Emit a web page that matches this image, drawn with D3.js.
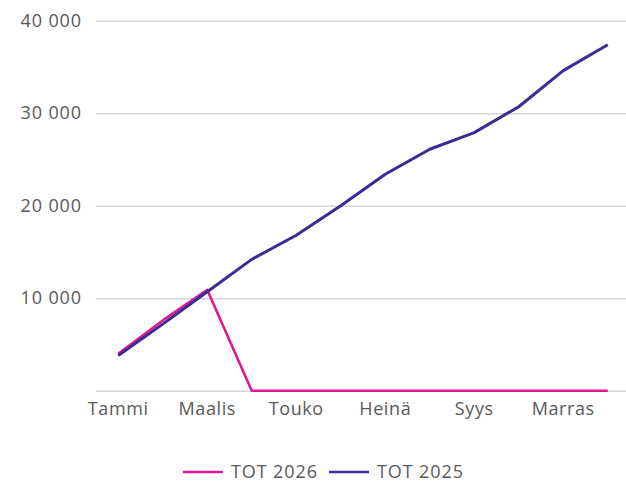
<!DOCTYPE html>
<html>
<head>
<meta charset="utf-8">
<script src="https://cdn.jsdelivr.net/npm/d3@7"></script>
<style>
  body { margin: 0; background: #fff; }
  text { font-family: "Open Sans", sans-serif; fill: #595959; }
</style>
</head>
<body>
<div id="chart"></div>
<script>
// months (only every other label is shown on the axis)
var months = ["Tammi", "Helmi", "Maalis", "Huhti", "Touko", "Kesä", "Heinä", "Elo", "Syys", "Loka", "Marras", "Joulu"];
var tot2026 = [4000, 7600, 10900, 0, 0, 0, 0, 0, 0, 0, 0, 0];
var tot2025 = [3800, 7200, 10700, 14200, 16800, 20000, 23400, 26100, 27900, 30700, 34600, 37400];
var yTicks = [0, 10000, 20000, 30000, 40000];
var seriesNames = ["TOT 2026", "TOT 2025"];
var seriesColors = ["#e3168b", "#3a2b97"];

var svgWidth = 626;
var svgHeight = 484;
var plotLeft = 96, plotRight = 630, plotTop = 20.7, plotBottom = 390.7;

var svg = d3.select("#chart")
	.append("svg")
	.attr("width", svgWidth)
	.attr("height", svgHeight);

var x = d3.scaleBand()
	.domain(months)
	.range([plotLeft, plotRight]);

var y = d3.scaleLinear()
	.domain([0, 40000])
	.range([plotBottom, plotTop]);

// gridlines + y labels
var yAxis = svg.append("g")
	.attr("transform", "translate(" + plotLeft + ",0)")
	.call(d3.axisLeft(y)
		.tickValues(yTicks)
		.tickSize(-(svgWidth - plotLeft))
		.tickPadding(14)
		.tickFormat(function(d){
			return d === 0 ? "" : d3.format(",")(d).replace(/,/g, " ");
		}));
yAxis.select(".domain").remove();
yAxis.selectAll(".tick line")
	.attr("stroke", "#d6d6d6")
	.attr("stroke-width", 1.5);
yAxis.selectAll(".tick text")
	.style("font-size", "18px")
	.style("letter-spacing", "0.9px")
	.attr("fill", "#595959");

// x labels
var xAxis = svg.append("g")
	.attr("transform", "translate(0," + plotBottom + ")")
	.call(d3.axisBottom(x)
		.tickValues(months.filter(function(d, i){ return i % 2 === 0; }))
		.tickSize(0)
		.tickPadding(12));
xAxis.select(".domain").remove();
xAxis.selectAll(".tick text")
	.style("font-size", "18px")
	.style("letter-spacing", "0.6px")
	.attr("fill", "#595959");

var line = d3.line()
	.x(function(d, i){ return x(months[i]) + x.bandwidth() / 2; })
	.y(function(d){ return y(d); });

svg.append("path")
	.datum(tot2026)
	.attr("d", line)
	.attr("fill", "none")
	.attr("stroke", seriesColors[0])
	.attr("stroke-width", 2.5)
	.attr("stroke-linejoin", "round");

svg.append("path")
	.datum(tot2025)
	.attr("d", line)
	.attr("fill", "none")
	.attr("stroke", seriesColors[1])
	.attr("stroke-width", 3)
	.attr("stroke-linejoin", "round");

// legend
var legendX = [183, 329];
var legend = svg.selectAll(".legend")
	.data(seriesNames)
	.enter()
	.append("g")
	.attr("class", "legend")
	.attr("transform", function(d, i){
		return "translate(" + legendX[i] + ",472)";
	});

legend.append("line")
	.attr("x1", 0)
	.attr("x2", 40)
	.attr("stroke", function(d, i){ return seriesColors[i]; })
	.attr("stroke-width", 2.5);

legend.append("text")
	.attr("x", 48)
	.attr("dy", "0.35em")
	.style("font-size", "18px")
	.style("letter-spacing", "0.9px")
	.text(function(d){ return d; });
</script>
</body>
</html>
